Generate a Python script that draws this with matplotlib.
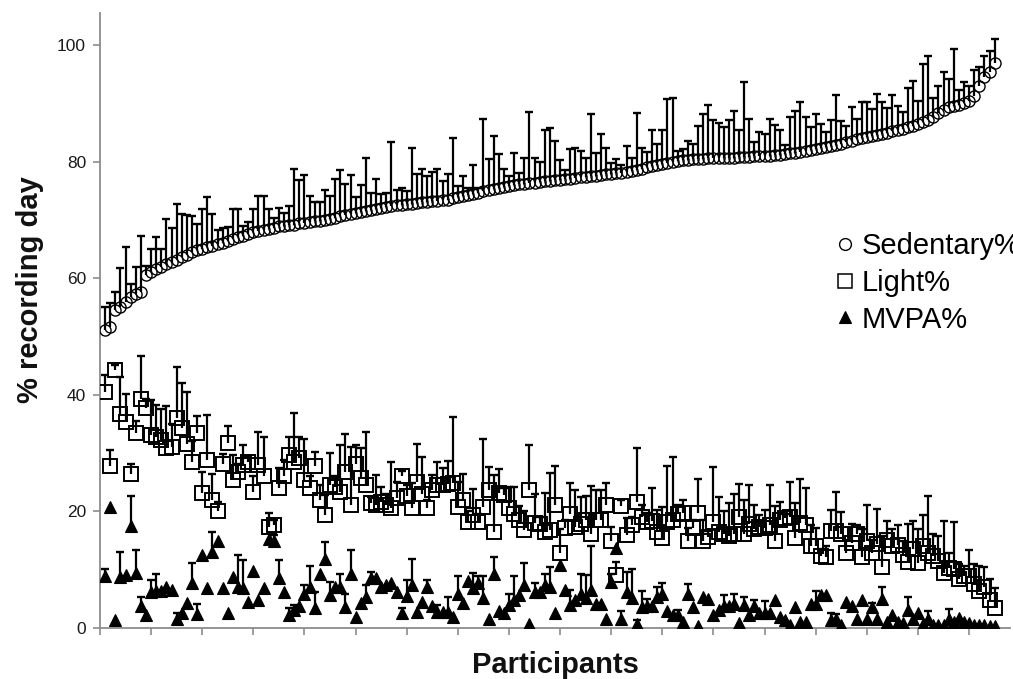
import numpy as np
import matplotlib
matplotlib.use("Agg")
import matplotlib.pyplot as plt
from matplotlib.lines import Line2D

plt.rcParams['font.family'] = ['Liberation Sans', 'DejaVu Sans']

# ---------------- data ----------------
sed_mean = [51.1, 51.6, 54.5, 55.1, 56.0, 56.8, 57.3, 57.6, 60.5, 61.0,
            61.5, 62.0, 62.4, 62.8, 63.2, 63.6, 64.0, 64.5, 64.8, 65.1,
            65.4, 65.6, 65.8, 66.1, 66.4, 66.7, 67.0, 67.3, 67.6, 67.9,
            68.1, 68.3, 68.5, 68.7, 68.9, 69.0, 69.1, 69.2, 69.4, 69.5,
            69.6, 69.8, 69.9, 70.0, 70.2, 70.4, 70.6, 70.8, 71.0, 71.2,
            71.3, 71.5, 71.7, 71.9, 72.1, 72.3, 72.4, 72.5, 72.6, 72.7,
            72.8, 72.9, 73.0, 73.1, 73.2, 73.3, 73.4, 73.5, 73.7, 73.9,
            74.1, 74.3, 74.5, 74.7, 74.9, 75.1, 75.3, 75.5, 75.7, 75.9,
            76.0, 76.1, 76.2, 76.3, 76.4, 76.5, 76.6, 76.7, 76.8, 76.9,
            77.0, 77.1, 77.2, 77.3, 77.4, 77.5, 77.6, 77.7, 77.8, 77.9,
            78.0, 78.1, 78.2, 78.4, 78.6, 78.8, 79.0, 79.2, 79.4, 79.6,
            79.8, 80.0, 80.1, 80.2, 80.3, 80.4, 80.5, 80.5, 80.6, 80.6,
            80.6, 80.7, 80.7, 80.7, 80.8, 80.8, 80.8, 80.9, 80.9, 81.0,
            81.0, 81.1, 81.2, 81.3, 81.4, 81.5, 81.7, 81.9, 82.0, 82.2,
            82.3, 82.5, 82.7, 82.9, 83.1, 83.3, 83.6, 83.8, 84.0, 84.2,
            84.4, 84.6, 84.8, 85.0, 85.2, 85.4, 85.6, 85.9, 86.2, 86.5,
            86.8, 87.2, 87.7, 88.3, 88.8, 89.3, 89.6, 89.8, 90.0, 90.4,
            91.2, 93.0, 94.5, 95.4, 96.9]
sed_top = [55.1, 55.7, 57.7, 61.8, 65.4, 59.0, 62.0, 67.3, 62.1, 65.1,
           67.0, 65.0, 70.1, 68.7, 72.8, 71.1, 70.8, 70.7, 69.3, 71.9,
           73.9, 71.0, 68.3, 68.7, 68.8, 71.9, 71.8, 69.0, 69.7, 71.8,
           74.1, 74.1, 71.9, 70.4, 72.0, 71.2, 72.4, 78.7, 76.8, 77.7,
           74.1, 73.1, 73.1, 75.2, 74.1, 77.0, 78.6, 76.2, 77.7, 74.0,
           76.0, 80.6, 74.7, 77.0, 74.4, 74.7, 83.4, 75.2, 75.4, 75.0,
           82.3, 77.9, 78.7, 77.5, 78.3, 78.8, 76.6, 77.9, 84.0, 75.9,
           77.5, 75.4, 79.4, 75.4, 87.4, 80.4, 84.4, 81.3, 78.7, 77.6,
           81.4, 78.0, 80.6, 88.5, 80.6, 80.0, 85.5, 85.7, 83.6, 80.3,
           78.5, 82.1, 82.4, 81.9, 80.7, 88.2, 81.4, 84.7, 82.4, 79.8,
           80.4, 79.5, 82.6, 80.7, 88.4, 82.3, 81.6, 85.4, 83.0, 85.4,
           90.7, 91.0, 81.9, 82.1, 83.6, 83.0, 86.1, 88.2, 89.8, 87.1,
           86.7, 85.9, 87.1, 88.7, 85.4, 93.6, 87.4, 83.4, 85.1, 84.8,
           87.4, 86.3, 85.4, 82.8, 87.7, 88.7, 90.3, 87.6, 86.0, 88.2,
           86.4, 85.1, 87.2, 91.4, 86.9, 86.1, 89.3, 87.4, 90.3, 90.3,
           89.0, 91.6, 90.3, 89.2, 91.4, 89.5, 88.5, 92.6, 93.9, 90.4,
           96.7, 98.2, 91.0, 92.9, 95.3, 94.1, 99.3, 92.3, 93.7, 93.0,
           95.7, 96.3, 98.2, 99.0, 101.0]

light_mean = [40.4, 27.8, 44.3, 36.7, 35.4, 26.4, 33.4, 39.2, 37.7, 33.1,
              32.7, 32.2, 30.8, 31.1, 36.0, 34.3, 31.6, 28.5, 33.4, 23.1,
              28.8, 22.0, 20.1, 28.2, 31.8, 25.4, 26.8, 28.0, 28.4, 23.4,
              28.0, 26.0, 17.4, 17.6, 24.0, 26.0, 29.7, 28.4, 29.1, 25.4,
              24.0, 27.8, 22.0, 19.4, 24.5, 24.2, 23.4, 26.8, 21.1, 28.1,
              25.7, 24.5, 21.4, 21.1, 21.7, 21.1, 20.5, 22.3, 26.0, 22.6,
              20.5, 25.1, 23.0, 20.5, 23.7, 24.5, 24.5, 24.7, 24.9, 20.8,
              22.0, 18.2, 19.4, 18.2, 20.8, 23.7, 16.4, 23.1, 22.8, 20.5,
              19.6, 18.6, 16.8, 23.6, 18.0, 17.9, 16.5, 16.8, 21.1, 12.8,
              17.2, 19.6, 17.4, 17.8, 18.5, 16.2, 18.6, 18.6, 21.1, 15.0,
              9.1, 20.9, 16.0, 17.6, 21.7, 19.0, 18.2, 18.4, 16.4, 15.4,
              18.2, 18.6, 19.5, 19.7, 14.9, 17.1, 19.7, 14.9, 15.6, 18.1,
              16.5, 16.2, 15.8, 16.1, 19.1, 16.1, 17.8, 16.9, 17.4, 17.1,
              17.7, 15.0, 18.6, 18.8, 19.1, 15.4, 18.0, 17.6, 14.1, 14.1,
              12.3, 12.1, 16.6, 16.6, 16.1, 12.8, 14.6, 16.1, 12.1, 15.0,
              12.8, 14.4, 10.5, 15.1, 14.0, 14.3, 12.6, 11.3, 13.6, 11.2,
              14.0, 12.8, 12.3, 11.5, 9.4, 10.3, 10.1, 8.4, 9.0, 8.9,
              7.6, 6.4, 7.1, 4.8, 3.5]
light_top = [43.4, 30.6, 45.1, 43.0, 40.1, 28.1, 35.5, 46.7, 39.3, 39.1,
             38.3, 37.5, 38.1, 35.0, 44.8, 42.1, 40.4, 32.1, 36.4, 26.8,
             36.5, 26.5, 21.7, 29.8, 34.6, 29.7, 28.1, 31.4, 29.5, 26.0,
             33.7, 32.7, 19.7, 18.5, 27.4, 28.8, 32.8, 36.9, 32.8, 32.4,
             26.0, 30.2, 24.5, 22.8, 30.0, 26.0, 31.4, 33.3, 31.0, 31.4,
             30.8, 33.7, 22.5, 26.2, 24.2, 23.0, 28.4, 25.0, 27.0, 24.5,
             24.9, 31.6, 29.3, 22.0, 26.2, 28.4, 27.5, 28.7, 36.2, 25.0,
             26.5, 20.0, 23.8, 19.5, 32.4, 27.7, 26.2, 27.3, 24.0, 24.2,
             24.2, 21.0, 20.0, 31.4, 23.0, 19.0, 23.1, 26.6, 27.8, 17.0,
             18.5, 24.9, 23.6, 22.4, 22.6, 24.4, 23.6, 23.7, 24.8, 17.4,
             11.4, 21.9, 18.9, 19.1, 30.8, 21.1, 19.7, 24.0, 20.2, 20.8,
             27.8, 29.3, 21.1, 22.0, 17.2, 18.5, 25.5, 18.5, 16.6, 27.6,
             22.4, 20.1, 21.4, 23.0, 24.7, 22.0, 24.5, 21.1, 19.4, 20.3,
             24.5, 20.9, 21.6, 19.5, 25.1, 21.4, 25.5, 24.0, 17.7, 17.1,
             13.6, 14.0, 20.2, 23.4, 19.9, 15.1, 17.9, 17.7, 17.0, 21.1,
             15.1, 20.4, 15.7, 18.3, 16.9, 17.7, 14.9, 17.9, 18.3, 17.0,
             19.4, 22.6, 16.2, 15.7, 18.4, 12.9, 18.2, 10.9, 10.6, 13.3,
             11.0, 10.6, 10.4, 8.4, 6.8]

mvpa_mean = [8.9, 20.8, 1.4, 8.8, 9.1, 17.5, 9.5, 3.7, 2.2, 6.2,
             6.4, 6.4, 7.1, 6.6, 1.5, 2.5, 4.3, 7.7, 2.4, 12.5,
             6.8, 13.1, 15.0, 6.8, 2.5, 8.7, 7.1, 6.8, 4.5, 9.7,
             4.8, 6.8, 15.2, 15.0, 8.5, 6.2, 2.2, 3.1, 3.7, 5.9,
             7.1, 3.4, 9.3, 11.8, 5.6, 7.1, 7.1, 3.6, 9.3, 1.9,
             4.3, 5.4, 8.5, 8.5, 7.1, 7.4, 7.7, 6.2, 2.5, 5.5,
             7.4, 2.7, 4.5, 7.1, 3.7, 2.7, 2.7, 2.7, 1.9, 5.9,
             4.3, 8.1, 6.8, 7.7, 5.1, 1.6, 9.3, 3.0, 2.5, 3.9,
             4.8, 5.6, 7.4, 0.7, 6.2, 6.2, 7.4, 7.1, 2.5, 10.8,
             6.6, 3.9, 4.8, 5.9, 5.1, 6.6, 4.1, 4.2, 1.6, 7.9,
             13.7, 1.6, 6.2, 5.1, 0.7, 3.6, 3.7, 3.8, 5.4, 5.8,
             3.0, 2.2, 2.2, 1.1, 5.9, 3.6, 0.4, 5.3, 5.0, 2.2,
             3.1, 3.8, 3.7, 4.2, 0.9, 3.9, 2.2, 3.7, 2.5, 2.6,
             2.5, 4.8, 1.9, 1.3, 0.6, 3.6, 1.1, 1.1, 4.2, 4.1,
             5.6, 5.6, 1.3, 1.6, 0.6, 4.5, 3.7, 1.6, 4.8, 1.6,
             3.6, 1.6, 5.0, 1.1, 2.2, 1.1, 0.9, 3.1, 1.6, 2.6,
             0.7, 1.6, 0.6, 0.6, 0.6, 1.6, 1.1, 1.8, 1.1, 0.9,
             0.6, 0.6, 0.5, 0.4, 0.4]
mvpa_top = [10.1, 20.8, 1.4, 13.1, 9.1, 22.6, 13.4, 5.4, 2.2, 8.3,
            9.3, 6.4, 7.1, 6.6, 2.6, 2.5, 4.3, 11.1, 4.2, 12.5,
            6.8, 16.5, 15.0, 6.8, 2.5, 8.7, 12.5, 11.7, 4.5, 9.7,
            4.8, 6.8, 15.2, 16.0, 11.7, 6.2, 3.5, 4.0, 3.7, 7.3,
            10.6, 6.1, 9.3, 14.8, 7.9, 7.1, 9.3, 5.9, 13.3, 1.9,
            4.3, 7.4, 9.6, 8.5, 7.1, 7.4, 7.7, 6.2, 3.5, 8.3,
            11.8, 2.7, 4.5, 8.3, 3.7, 4.0, 2.7, 5.3, 1.9, 8.9,
            4.3, 8.1, 9.5, 8.9, 8.9, 1.6, 12.1, 3.0, 2.5, 5.8,
            8.9, 5.6, 11.2, 0.7, 7.7, 6.2, 9.3, 10.4, 2.5, 10.8,
            6.6, 6.6, 4.8, 9.3, 9.1, 14.1, 4.1, 4.2, 1.6, 9.2,
            13.7, 2.9, 9.6, 10.1, 1.3, 6.3, 5.0, 3.8, 7.1, 7.7,
            3.0, 2.2, 3.1, 1.1, 7.6, 3.6, 0.4, 5.3, 5.0, 2.2,
            3.1, 5.7, 3.7, 5.9, 0.9, 5.3, 2.2, 4.8, 2.5, 4.7,
            2.5, 4.8, 1.9, 1.3, 0.6, 3.6, 1.1, 1.1, 4.2, 6.4,
            5.6, 5.6, 2.5, 2.4, 0.6, 4.5, 3.7, 1.6, 4.8, 1.6,
            4.3, 1.6, 7.0, 1.1, 2.2, 1.1, 0.9, 5.3, 1.6, 2.6,
            0.7, 3.0, 0.6, 0.6, 0.6, 3.3, 1.1, 1.8, 1.1, 0.9,
            0.6, 0.6, 0.5, 0.4, 0.4]

y_ticks = [0, 20, 40, 60, 80, 100]
legend_labels = ["Sedentary%", "Light%", "MVPA%"]
y_label = "% recording day"
x_label = "Participants"

# ---------------- figure ----------------
W, H = 1013, 679
fig = plt.figure(figsize=(W / 100, H / 100), dpi=100)
ax = fig.add_axes([100 / W, 51 / H, 910 / W, 615 / H])

x = np.arange(1, len(sed_mean) + 1)


def draw_series(mean, top, marker, ms, mew, filled, z):
    mean = np.asarray(mean, float)
    top = np.asarray(top, float)
    has = (top - mean) > 0.3
    ax.vlines(x[has], mean[has], top[has], colors='black', linewidth=1.6, zorder=z)
    ax.plot(x[has], top[has], linestyle='none', marker='_', markersize=6,
            markeredgewidth=1.7, color='black', zorder=z)
    ax.plot(x, mean, linestyle='none', marker=marker, markersize=ms,
            markeredgewidth=mew, markeredgecolor='black',
            markerfacecolor='black' if filled else 'none', zorder=z + 1)


draw_series(sed_mean, sed_top, 'o', 8.0, 1.0, False, 3)
draw_series(light_mean, light_top, 's', 9.6, 1.4, False, 3)
draw_series(mvpa_mean, mvpa_top, '^', 8.3, 0.8, True, 3)

ax.set_xlim(0, 178)
ax.set_ylim(0, 105.5)
ax.set_yticks(y_ticks)
ax.set_xticks(np.arange(0, 178, 10))
ax.set_xticklabels([])
ax.tick_params(axis='y', direction='out', length=5, width=1.2, color='#8c8c8c',
               labelsize=12.5, labelcolor='#1a1a1a', pad=5)
ax.tick_params(axis='x', direction='out', length=5, width=1.2, color='#8c8c8c')
for s in ['top', 'right']:
    ax.spines[s].set_visible(False)
for s in ['left', 'bottom']:
    ax.spines[s].set_color('#8c8c8c')
    ax.spines[s].set_linewidth(1.3)

fig.text(30 / W, 1 - 290 / H, y_label, rotation=90, ha='center', va='center',
         fontsize=21, fontweight='bold', color='#111111')
fig.text(555 / W, 1 - 665 / H, x_label, ha='center', va='center',
         fontsize=21, fontweight='bold', color='#111111')

handles = [
    Line2D([], [], linestyle='none', marker='o', markersize=8.5, markeredgewidth=1.0,
           markeredgecolor='black', markerfacecolor='none'),
    Line2D([], [], linestyle='none', marker='s', markersize=10, markeredgewidth=1.1,
           markeredgecolor='black', markerfacecolor='none'),
    Line2D([], [], linestyle='none', marker='^', markersize=8, markeredgewidth=0.8,
           markeredgecolor='black', markerfacecolor='black'),
]
fig.legend(handles, legend_labels, loc='upper left',
           bbox_to_anchor=(834 / W, 1 - 232 / H), frameon=False,
           fontsize=21, handlelength=0.75, handletextpad=0.2,
           labelspacing=0.3, borderpad=0, borderaxespad=0)

fig.savefig('out.png', dpi=100)
